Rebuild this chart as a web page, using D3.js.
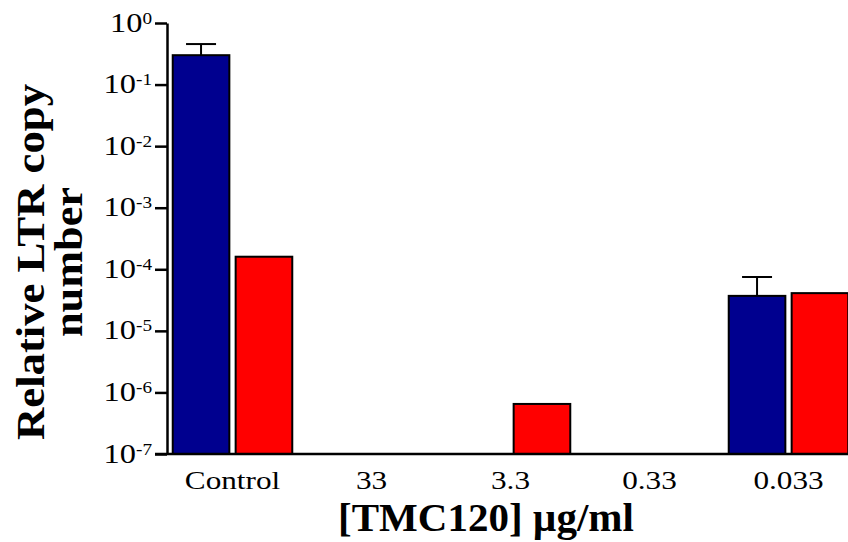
<!DOCTYPE html>
<html>
<head>
<meta charset="utf-8">
<script src="https://cdn.jsdelivr.net/npm/d3@7"></script>
<style>
  body { margin: 0; background: #fff; }
  text { font-family: "Liberation Serif", "Times New Roman", serif; fill: #000; }
</style>
</head>
<body>
<script>
// chart data
const categories = ['Control', '33', '3.3', '0.33', '0.033'];
const series = ['blue', 'red'];
const blueValues = [0.30, null, null, null, 3.7e-5];
const blueErrors = [0.455, null, null, null, 7.5e-5];   // top of error bar
const redValues  = [1.6e-4, null, 6.5e-7, null, 4.1e-5];
const tickExps = [0, -1, -2, -3, -4, -5, -6, -7];

const WIDTH = 848, HEIGHT = 542;
const colors = { blue: '#00008f', red: '#ff0000' };

const svg = d3.select('body').append('svg')
    .attr('width', WIDTH)
    .attr('height', HEIGHT);

const y = d3.scaleLog().domain([1e-7, 1]).range([454, 23]);

const x0 = d3.scaleBand().domain(categories)
    .range([163, 858])
    .paddingInner(0.14)
    .paddingOuter(0.07);

const x1 = d3.scaleBand().domain(series)
    .range([0, x0.bandwidth()])
    .paddingInner(0.1);

const rows = categories.map((c, i) => ({
  cat: c,
  bars: [
    { s: 'blue', v: blueValues[i], err: blueErrors[i] },
    { s: 'red', v: redValues[i], err: null }
  ]
}));

// bars
const groups = svg.selectAll('g.grp').data(rows).enter().append('g')
    .attr('class', 'grp')
    .attr('transform', d => `translate(${x0(d.cat)},0)`);

const bars = groups.selectAll('g.bar')
    .data(d => d.bars.filter(b => b.v != null))
    .enter().append('g');

// error bars (upward only) drawn under the bar
bars.filter(b => b.err != null).each(function (b) {
  const g = d3.select(this);
  const cx = x1(b.s) + x1.bandwidth() / 2;
  g.append('line')
      .attr('x1', cx).attr('x2', cx)
      .attr('y1', y(b.v)).attr('y2', y(b.err))
      .attr('stroke', '#000').attr('stroke-width', 2);
  g.append('line')
      .attr('x1', cx - 15).attr('x2', cx + 15)
      .attr('y1', y(b.err)).attr('y2', y(b.err))
      .attr('stroke', '#000').attr('stroke-width', 2);
});

bars.append('rect')
    .attr('x', b => x1(b.s))
    .attr('y', b => y(b.v))
    .attr('width', x1.bandwidth())
    .attr('height', b => y(1e-7) - y(b.v))
    .attr('fill', b => colors[b.s])
    .attr('stroke', '#000')
    .attr('stroke-width', 2);

// y axis
const yAxis = svg.append('g')
    .attr('transform', 'translate(167,0)')
    .call(d3.axisLeft(y)
      .tickValues(tickExps.map(e => Math.pow(10, e)))
      .tickSize(12)
      .tickSizeOuter(0)
      .tickFormat(''));
yAxis.select('.domain').attr('stroke-width', 2.5);
yAxis.selectAll('.tick line').attr('stroke-width', 2.5);

// labels 10^n, slightly wide like the original
yAxis.selectAll('.tick').append('text')
    .attr('transform', 'translate(-15,8) scale(1.2,1)')
    .attr('text-anchor', 'end')
    .style('font-size', '27px')
    .each(function (d) {
      const t = d3.select(this);
      const e = Math.round(Math.log10(d));
      t.append('tspan').text('10');
      t.append('tspan')
          .attr('dy', '-0.5em')
          .style('font-size', '16px')
          .text(e === 0 ? '0' : '-' + (-e));
    });

// x axis line
svg.append('line')
    .attr('x1', 155).attr('x2', WIDTH)
    .attr('y1', 454).attr('y2', 454)
    .attr('stroke', '#000').attr('stroke-width', 2.5);

svg.selectAll('text.cat').data(categories).enter().append('text')
    .attr('class', 'cat')
    .attr('transform', d => `translate(${x0(d) + x0.bandwidth() / 2},489) scale(1.2,1)`)
    .attr('text-anchor', 'middle')
    .style('font-size', '26px')
    .text(d => d);

// axis titles
svg.append('text')
    .attr('x', 486).attr('y', 531)
    .attr('text-anchor', 'middle')
    .style('font-size', '41px')
    .style('font-weight', 'bold')
    .text('[TMC120] \u00b5g/ml');

const yt = svg.append('text')
    .attr('transform', 'translate(0,262) rotate(-90)')
    .attr('text-anchor', 'middle')
    .style('font-size', '41px')
    .style('font-weight', 'bold');
yt.append('tspan').attr('x', 0).attr('y', 44)
    .attr('textLength', 356).attr('lengthAdjust', 'spacingAndGlyphs')
    .text('Relative LTR copy');
yt.append('tspan').attr('x', 0).attr('y', 82)
    .attr('textLength', 150).attr('lengthAdjust', 'spacingAndGlyphs')
    .text('number');
</script>
</body>
</html>
